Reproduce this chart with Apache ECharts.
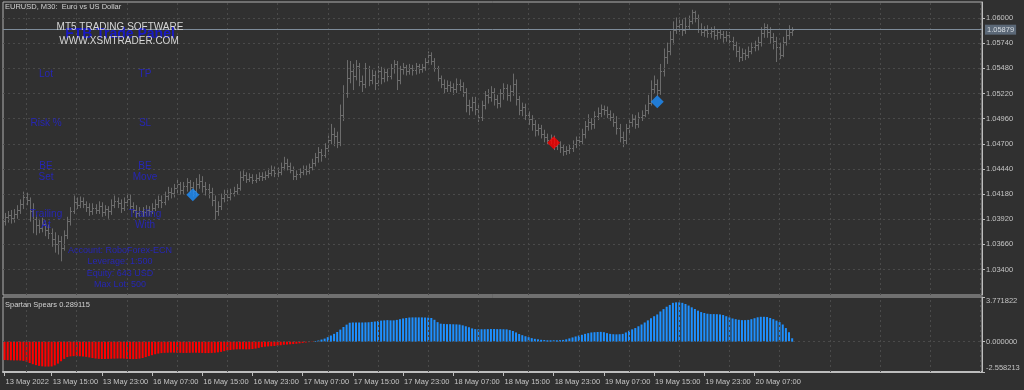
<!DOCTYPE html>
<html><head><meta charset="utf-8">
<script src="https://cdn.jsdelivr.net/npm/echarts@6/dist/echarts.min.js"></script>
<style>html,body{margin:0;padding:0;background:#303030;}#c{width:1024px;height:390px;}</style>
</head><body><div id="c"></div>
<script>
// ---- data (EURUSD M30, bar index 0 = 13 May 07:30) ----
const opens = [
1.0390,1.0394,1.0396,1.0393,1.0397,1.0402,1.0408,1.0415,1.0412,1.0400,
1.0392,1.0386,1.0383,1.0387,1.0381,1.0378,1.0372,1.0366,1.0370,1.0362,
1.0376,1.0390,1.0401,1.0410,1.0407,1.0411,1.0408,1.0405,1.0400,1.0404,
1.0402,1.0406,1.0399,1.0403,1.0400,1.0407,1.0411,1.0409,1.0404,1.0410,
1.0413,1.0406,1.0402,1.0398,1.0401,1.0399,1.0402,1.0400,1.0404,1.0408,
1.0412,1.0410,1.0416,1.0420,1.0419,1.0424,1.0428,1.0422,1.0426,1.0430,
1.0425,1.0421,1.0428,1.0432,1.0426,1.0423,1.0420,1.0412,1.0400,1.0406,
1.0414,1.0418,1.0415,1.0419,1.0421,1.0424,1.0436,1.0438,1.0434,1.0436,
1.0433,1.0435,1.0437,1.0436,1.0438,1.0440,1.0443,1.0440,1.0441,1.0446,
1.0450,1.0447,1.0443,1.0437,1.0439,1.0441,1.0444,1.0442,1.0446,1.0450,
1.0456,1.0461,1.0458,1.0466,1.0474,1.0480,1.0478,1.0472,1.0500,1.0522,
1.0538,1.0545,1.0540,1.0550,1.0535,1.0532,1.0548,1.0536,1.0541,1.0533,
1.0545,1.0538,1.0544,1.0540,1.0548,1.0552,1.0536,1.0547,1.0549,1.0545,
1.0548,1.0546,1.0550,1.0547,1.0549,1.0555,1.0562,1.0556,1.0548,1.0538,
1.0532,1.0528,1.0531,1.0529,1.0527,1.0532,1.0530,1.0523,1.0510,1.0508,
1.0513,1.0506,1.0498,1.0510,1.0520,1.0518,1.0524,1.0516,1.0512,1.0522,
1.0528,1.0520,1.0525,1.0532,1.0516,1.0505,1.0508,1.0500,1.0496,1.0490,
1.0484,1.0486,1.0480,1.0477,1.0474,1.0476,1.0468,1.0470,1.0467,1.0463,
1.0464,1.0466,1.0470,1.0474,1.0473,1.0480,1.0488,1.0492,1.0490,1.0499,
1.0502,1.0506,1.0505,1.0501,1.0498,1.0493,1.0486,1.0477,1.0474,1.0486,
1.0492,1.0496,1.0490,1.0498,1.0500,1.0505,1.0512,1.0527,1.0532,1.0526,
1.0545,1.0560,1.0566,1.0578,1.0588,1.0592,1.0594,1.0588,1.0592,1.0597,
1.0606,1.0600,1.0589,1.0586,1.0588,1.0584,1.0587,1.0582,1.0585,1.0583,
1.0580,1.0582,1.0576,1.0572,1.0566,1.0560,1.0564,1.0562,1.0566,1.0570,
1.0572,1.0575,1.0584,1.0591,1.0586,1.0580,1.0576,1.0570,1.0562,1.0575,
1.0582,1.0585];
const closes = [
1.0394,1.0396,1.0393,1.0397,1.0402,1.0408,1.0415,1.0412,1.0400,1.0392,
1.0386,1.0383,1.0387,1.0381,1.0378,1.0372,1.0366,1.0370,1.0362,1.0376,
1.0390,1.0401,1.0410,1.0407,1.0411,1.0408,1.0405,1.0400,1.0404,1.0402,
1.0406,1.0399,1.0403,1.0400,1.0407,1.0411,1.0409,1.0404,1.0410,1.0413,
1.0406,1.0402,1.0398,1.0401,1.0399,1.0402,1.0400,1.0404,1.0408,1.0412,
1.0410,1.0416,1.0420,1.0419,1.0424,1.0428,1.0422,1.0426,1.0430,1.0425,
1.0421,1.0428,1.0432,1.0426,1.0423,1.0420,1.0412,1.0400,1.0406,1.0414,
1.0418,1.0415,1.0419,1.0421,1.0424,1.0436,1.0438,1.0434,1.0436,1.0433,
1.0435,1.0437,1.0436,1.0438,1.0440,1.0443,1.0440,1.0441,1.0446,1.0450,
1.0447,1.0443,1.0437,1.0439,1.0441,1.0444,1.0442,1.0446,1.0450,1.0456,
1.0461,1.0458,1.0466,1.0474,1.0480,1.0478,1.0472,1.0500,1.0522,1.0538,
1.0545,1.0540,1.0550,1.0535,1.0532,1.0548,1.0536,1.0541,1.0533,1.0545,
1.0538,1.0544,1.0540,1.0548,1.0552,1.0536,1.0547,1.0549,1.0545,1.0548,
1.0546,1.0550,1.0547,1.0549,1.0555,1.0562,1.0556,1.0548,1.0538,1.0532,
1.0528,1.0531,1.0529,1.0527,1.0532,1.0530,1.0523,1.0510,1.0508,1.0513,
1.0506,1.0498,1.0510,1.0520,1.0518,1.0524,1.0516,1.0512,1.0522,1.0528,
1.0520,1.0525,1.0532,1.0516,1.0505,1.0508,1.0500,1.0496,1.0490,1.0484,
1.0486,1.0480,1.0477,1.0474,1.0476,1.0468,1.0470,1.0467,1.0463,1.0464,
1.0466,1.0470,1.0474,1.0473,1.0480,1.0488,1.0492,1.0490,1.0499,1.0502,
1.0506,1.0505,1.0501,1.0498,1.0493,1.0486,1.0477,1.0474,1.0486,1.0492,
1.0496,1.0490,1.0498,1.0500,1.0505,1.0512,1.0527,1.0532,1.0526,1.0545,
1.0560,1.0566,1.0578,1.0588,1.0592,1.0594,1.0588,1.0592,1.0597,1.0606,
1.0600,1.0589,1.0586,1.0588,1.0584,1.0587,1.0582,1.0585,1.0583,1.0580,
1.0582,1.0576,1.0572,1.0566,1.0560,1.0564,1.0562,1.0566,1.0570,1.0572,
1.0575,1.0584,1.0591,1.0586,1.0580,1.0576,1.0570,1.0562,1.0575,1.0582,
1.0585,1.05879];
const highs = [
1.0398,1.0400,1.0401,1.0402,1.0406,1.0412,1.0420,1.0419,1.0414,1.0408,
1.0396,1.0392,1.0393,1.0390,1.0386,1.0382,1.0378,1.0375,1.0374,1.0380,
1.0394,1.0404,1.0416,1.0414,1.0415,1.0414,1.0410,1.0408,1.0408,1.0407,
1.0410,1.0409,1.0406,1.0405,1.0412,1.0416,1.0414,1.0412,1.0414,1.0418,
1.0417,1.0409,1.0406,1.0404,1.0404,1.0406,1.0405,1.0408,1.0412,1.0416,
1.0416,1.0420,1.0425,1.0424,1.0428,1.0433,1.0430,1.0430,1.0434,1.0432,
1.0430,1.0434,1.0438,1.0436,1.0430,1.0428,1.0424,1.0416,1.0410,1.0418,
1.0422,1.0422,1.0423,1.0425,1.0428,1.0441,1.0442,1.0440,1.0439,1.0438,
1.0438,1.0440,1.0440,1.0441,1.0444,1.0447,1.0446,1.0445,1.0450,1.0456,
1.0454,1.0450,1.0446,1.0442,1.0444,1.0447,1.0447,1.0449,1.0454,1.0460,
1.0466,1.0464,1.0470,1.0478,1.0490,1.0486,1.0482,1.0510,1.0530,1.0556,
1.0555,1.0552,1.0556,1.0553,1.0540,1.0553,1.0550,1.0546,1.0545,1.0550,
1.0549,1.0548,1.0547,1.0552,1.0556,1.0555,1.0550,1.0553,1.0551,1.0552,
1.0551,1.0553,1.0552,1.0552,1.0558,1.0565,1.0564,1.0558,1.0550,1.0540,
1.0536,1.0535,1.0534,1.0532,1.0537,1.0536,1.0533,1.0527,1.0515,1.0518,
1.0518,1.0510,1.0514,1.0524,1.0526,1.0529,1.0527,1.0520,1.0526,1.0532,
1.0531,1.0530,1.0542,1.0536,1.0519,1.0512,1.0511,1.0503,1.0499,1.0494,
1.0490,1.0489,1.0484,1.0480,1.0479,1.0478,1.0473,1.0472,1.0469,1.0467,
1.0469,1.0473,1.0477,1.0477,1.0485,1.0493,1.0500,1.0496,1.0503,1.0507,
1.0510,1.0509,1.0508,1.0504,1.0501,1.0498,1.0490,1.0482,1.0490,1.0496,
1.0500,1.0499,1.0502,1.0504,1.0510,1.0520,1.0535,1.0540,1.0536,1.0552,
1.0568,1.0574,1.0586,1.0596,1.0600,1.0600,1.0598,1.0600,1.0602,1.0608,
1.0607,1.0603,1.0594,1.0591,1.0592,1.0590,1.0591,1.0588,1.0588,1.0586,
1.0586,1.0585,1.0580,1.0575,1.0570,1.0568,1.0567,1.0570,1.0574,1.0576,
1.0580,1.0590,1.0594,1.0593,1.0590,1.0584,1.0580,1.0574,1.0580,1.0587,
1.0592,1.0590];
const lows = [
1.0386,1.0389,1.0388,1.0389,1.0393,1.0398,1.0403,1.0407,1.0390,1.0378,
1.0376,1.0378,1.0379,1.0375,1.0372,1.0364,1.0358,1.0356,1.0349,1.0360,
1.0372,1.0386,1.0398,1.0403,1.0404,1.0404,1.0400,1.0396,1.0397,1.0398,
1.0398,1.0395,1.0396,1.0393,1.0397,1.0404,1.0404,1.0399,1.0401,1.0406,
1.0402,1.0399,1.0394,1.0395,1.0395,1.0396,1.0396,1.0398,1.0401,1.0404,
1.0404,1.0407,1.0412,1.0414,1.0415,1.0419,1.0418,1.0418,1.0421,1.0420,
1.0416,1.0417,1.0424,1.0420,1.0417,1.0414,1.0406,1.0392,1.0396,1.0402,
1.0410,1.0411,1.0412,1.0416,1.0418,1.0422,1.0432,1.0430,1.0431,1.0429,
1.0430,1.0432,1.0432,1.0433,1.0435,1.0437,1.0436,1.0436,1.0438,1.0443,
1.0443,1.0440,1.0433,1.0433,1.0435,1.0438,1.0438,1.0439,1.0443,1.0447,
1.0451,1.0452,1.0456,1.0462,1.0470,1.0468,1.0466,1.0468,1.0494,1.0518,
1.0533,1.0526,1.0536,1.0530,1.0524,1.0528,1.0530,1.0532,1.0526,1.0530,
1.0532,1.0534,1.0535,1.0537,1.0543,1.0526,1.0532,1.0542,1.0541,1.0542,
1.0541,1.0542,1.0543,1.0544,1.0546,1.0552,1.0552,1.0545,1.0535,1.0528,
1.0522,1.0524,1.0524,1.0521,1.0523,1.0525,1.0519,1.0503,1.0500,1.0504,
1.0500,1.0493,1.0494,1.0506,1.0512,1.0514,1.0510,1.0507,1.0508,1.0516,
1.0515,1.0514,1.0520,1.0510,1.0500,1.0499,1.0495,1.0490,1.0484,1.0478,
1.0479,1.0476,1.0472,1.0470,1.0470,1.0464,1.0464,1.0461,1.0458,1.0459,
1.0460,1.0462,1.0466,1.0468,1.0470,1.0476,1.0484,1.0485,1.0486,1.0495,
1.0498,1.0500,1.0497,1.0494,1.0488,1.0480,1.0472,1.0467,1.0470,1.0481,
1.0488,1.0486,1.0487,1.0494,1.0498,1.0501,1.0510,1.0522,1.0520,1.0521,
1.0540,1.0553,1.0562,1.0573,1.0584,1.0586,1.0582,1.0584,1.0588,1.0594,
1.0596,1.0585,1.0582,1.0581,1.0580,1.0580,1.0578,1.0578,1.0579,1.0575,
1.0576,1.0572,1.0567,1.0560,1.0555,1.0556,1.0557,1.0559,1.0563,1.0566,
1.0567,1.0571,1.0580,1.0580,1.0574,1.0568,1.0555,1.0558,1.0560,1.0572,
1.0578,1.0582];
const spears = [
-1.55,-1.56,-1.57,-1.58,-1.58,-1.59,-1.62,-1.70,-1.80,-1.90,
-1.98,-2.04,-2.08,-2.10,-2.10,-2.09,-2.00,-1.85,-1.65,-1.45,
-1.30,-1.24,-1.22,-1.22,-1.23,-1.25,-1.28,-1.33,-1.38,-1.42,
-1.45,-1.46,-1.46,-1.45,-1.44,-1.43,-1.42,-1.42,-1.43,-1.45,
-1.46,-1.47,-1.46,-1.43,-1.38,-1.30,-1.22,-1.14,-1.06,-1.00,
-0.96,-0.94,-0.93,-0.92,-0.92,-0.93,-0.94,-0.95,-0.95,-0.94,
-0.93,-0.93,-0.94,-0.95,-0.96,-0.96,-0.95,-0.93,-0.90,-0.86,
-0.80,-0.74,-0.70,-0.67,-0.65,-0.64,-0.64,-0.65,-0.64,-0.62,
-0.58,-0.52,-0.46,-0.42,-0.40,-0.38,-0.36,-0.34,-0.30,-0.26,
-0.24,-0.22,-0.20,-0.17,-0.14,-0.10,-0.07,-0.04,-0.02,0.06,
0.10,0.18,0.26,0.38,0.52,0.66,0.82,1.02,1.24,1.44,
1.60,1.62,1.62,1.62,1.62,1.63,1.64,1.67,1.70,1.74,
1.78,1.80,1.82,1.80,1.80,1.84,1.90,1.96,2.00,2.04,
2.05,2.05,2.05,2.05,2.04,2.03,2.00,1.85,1.65,1.52,
1.50,1.48,1.48,1.47,1.46,1.44,1.38,1.30,1.22,1.12,
1.06,1.05,1.05,1.05,1.06,1.07,1.07,1.06,1.06,1.05,
1.04,0.98,0.90,0.78,0.65,0.55,0.46,0.38,0.30,0.24,
0.20,0.16,0.14,0.12,0.12,0.12,0.12,0.13,0.15,0.20,
0.28,0.36,0.44,0.52,0.58,0.66,0.72,0.78,0.80,0.82,
0.83,0.80,0.72,0.66,0.63,0.62,0.63,0.66,0.78,0.92,
1.04,1.15,1.30,1.45,1.62,1.80,1.98,2.15,2.30,2.55,
2.75,2.95,3.10,3.28,3.32,3.32,3.28,3.18,3.05,2.90,
2.76,2.62,2.50,2.42,2.36,2.33,2.33,2.32,2.30,2.25,
2.15,2.05,1.96,1.90,1.85,1.82,1.82,1.84,1.90,1.98,
2.06,2.10,2.10,2.08,2.00,1.90,1.78,1.65,1.45,1.15,
0.80,0.289115];
const xTickLabels = ['13 May 2022','13 May 15:00','13 May 23:00','16 May 07:00','16 May 15:00','16 May 23:00','17 May 07:00','17 May 15:00','17 May 23:00','18 May 07:00','18 May 15:00','18 May 23:00','19 May 07:00','19 May 15:00','19 May 23:00','20 May 07:00'];
const xTickBars = [0,15,31,47,63,79,95,111,127,143,159,175,191,207,223,239];
const vGridBars = [7,23,39,55,71,87,103,119,135,151,167,183,199,215,231,247,263,279,295,311];
const priceTicks = [1.03400,1.03660,1.03920,1.04180,1.04440,1.04700,1.04960,1.05220,1.05480,1.05740,1.06000];
const spearTicks = [-2.558213, 0, 3.771822];
const buySignals = [[60, 1.04174], [208, 1.05133]];
const sellSignals = [[175, 1.04710]];
const lastPrice = 1.05879;
const slotCount = 312;

// ---- build ----
const slots = [];
for (let i = 0; i < slotCount; i++) slots.push(i);
const ohlc = opens.map((o, i) => [i, o, closes[i], lows[i], highs[i]]);

const FONT = 'Liberation Sans, Arial, sans-serif';
const AXIS_TXT = '#c4c4c4';
const gridLine = () => ({color: '#4a4a4a', type: [2, 3], width: 1});
const PANEL_BLUE = '#2626b4';

function renderOHLC(params, api) {
  const i = api.value(0);
  const pO = api.coord([i, api.value(1)]);
  const pC = api.coord([i, api.value(2)]);
  const pL = api.coord([i, api.value(3)]);
  const pH = api.coord([i, api.value(4)]);
  const x = Math.round(pH[0]) + 0.5;
  const yo = Math.round(pO[1]) + 0.5, yc = Math.round(pC[1]) + 0.5;
  const style = {stroke: '#6c6c6c', lineWidth: 1};
  return {type: 'group', children: [
    {type: 'line', shape: {x1: x, y1: pH[1] - 0.5, x2: x, y2: pL[1] + 0.5}, style},
    {type: 'line', shape: {x1: x - 1.5, y1: yo, x2: x, y2: yo}, style},
    {type: 'line', shape: {x1: x, y1: yc, x2: x + 1.5, y2: yc}, style}
  ]};
}

const isTick = (idx) => xTickBars.indexOf(Number(idx)) >= 0;

function txt(text, x, y, opt) {
  return {type: 'text', z: 100, silent: true, style: Object.assign({
    text, x, y, fill: PANEL_BLUE, font: '10px ' + FONT,
    align: 'center', verticalAlign: 'middle', textAlign: 'center', textVerticalAlign: 'middle'
  }, opt || {})};
}

const gridMarkLine = (list) => ({
  silent: true, symbol: ['none', 'none'], label: {show: false}, precision: 6,
  lineStyle: gridLine(), emphasis: {disabled: true}, animation: false, data: list
});

const chart = echarts.init(document.getElementById('c'), null, {renderer: 'canvas'});
chart.setOption({
  backgroundColor: '#303030',
  animation: false,
  grid: [
    {left: 3, top: 2, width: 979, height: 293, show: true, borderColor: '#b0b0b0', borderWidth: 1, backgroundColor: 'transparent'},
    {left: 3, top: 297, width: 979, height: 75, show: true, borderColor: '#b0b0b0', borderWidth: 1, backgroundColor: 'transparent'}
  ],
  xAxis: [
    {type: 'category', gridIndex: 0, data: slots, boundaryGap: true, show: false},
    {type: 'category', gridIndex: 1, data: slots, boundaryGap: true,
     axisLine: {show: true, onZero: false, lineStyle: {color: '#bdbdbd', width: 2}},
     axisTick: {show: true, interval: (i) => isTick(i), alignWithLabel: true, length: 4, lineStyle: {color: '#bdbdbd'}},
     axisLabel: {show: true, interval: (i) => isTick(i), align: 'left', margin: 6, padding: [0, 0, 0, 1],
       color: AXIS_TXT, fontFamily: FONT, fontSize: 7.5,
       formatter: (v) => { const k = xTickBars.indexOf(Number(v)); return k >= 0 ? xTickLabels[k] : ''; }},
     splitLine: {show: false}}
  ],
  yAxis: [
    {type: 'value', gridIndex: 0, position: 'right', min: 1.031369, max: 1.061651, scale: true,
     axisLine: {show: true, lineStyle: {color: '#bdbdbd'}},
     axisTick: {show: true, customValues: priceTicks, length: 3, lineStyle: {color: '#bdbdbd'}},
     axisLabel: {show: true, customValues: priceTicks, margin: 4, color: AXIS_TXT, fontFamily: FONT, fontSize: 7.5,
       formatter: (v) => v.toFixed(5)},
     splitLine: {show: false}},
    {type: 'value', gridIndex: 1, position: 'right', min: -2.558213, max: 3.771822,
     axisLine: {show: true, lineStyle: {color: '#bdbdbd'}},
     axisTick: {show: true, customValues: spearTicks, length: 3, lineStyle: {color: '#bdbdbd'}},
     axisLabel: {show: true, customValues: spearTicks, margin: 4, color: AXIS_TXT, fontFamily: FONT, fontSize: 7.5,
       verticalAlignMinLabel: 'bottom', verticalAlignMaxLabel: 'top',
       formatter: (v) => v.toFixed(6)},
     splitLine: {show: false}}
  ],
  series: [
    {type: 'line', xAxisIndex: 0, yAxisIndex: 0, data: [], silent: true,
     markLine: gridMarkLine(priceTicks.map(v => ({yAxis: v})).concat(vGridBars.map(b => ({xAxis: b}))))},
    {type: 'line', xAxisIndex: 1, yAxisIndex: 1, data: [], silent: true,
     markLine: gridMarkLine([{yAxis: 0}].concat(vGridBars.map(b => ({xAxis: b}))))},
    {type: 'custom', name: 'EURUSD', xAxisIndex: 0, yAxisIndex: 0, data: ohlc,
     encode: {x: 0, y: [1, 2, 3, 4]}, renderItem: renderOHLC, z: 3, silent: true},
    {type: 'line', name: 'Last price', xAxisIndex: 0, yAxisIndex: 0, data: [], silent: true, z: 4,
     markLine: {silent: true, symbol: ['none', 'none'], animation: false, precision: 5, emphasis: {disabled: true},
       lineStyle: {color: '#7d8b99', type: 'solid', width: 1},
       label: {show: true, position: 'end', distance: 3, formatter: lastPrice.toFixed(5),
         backgroundColor: '#5b6877', color: '#d8dde2', fontFamily: FONT, fontSize: 7.5, padding: [1, 2, 1, 2]},
       data: [{yAxis: lastPrice}]}},
    {type: 'scatter', xAxisIndex: 0, yAxisIndex: 0, data: buySignals, symbol: 'diamond', symbolSize: 13,
     itemStyle: {color: '#1e90ff'}, z: 5, silent: true},
    {type: 'scatter', xAxisIndex: 0, yAxisIndex: 0, data: sellSignals, symbol: 'diamond', symbolSize: 13,
     itemStyle: {color: '#ff0000'}, z: 5, silent: true},
    {type: 'bar', name: 'Spartan Spears', xAxisIndex: 1, yAxisIndex: 1, data: spears, barWidth: 2, silent: true,
     itemStyle: {color: (p) => p.value < 0 ? '#ff0000' : '#1e90ff'}}
  ],
  graphic: [
    txt('EURUSD, M30:  Euro vs US Dollar', 5, 7, {fill: '#d2d2d2', font: '7.5px ' + FONT, align: 'left', textAlign: 'left'}),
    txt('Spartan Spears 0.289115', 5, 304.5, {fill: '#d2d2d2', font: '7.5px ' + FONT, align: 'left', textAlign: 'left'}),
    txt('FTB Trade Panel', 120, 34, {fill: '#1818c4', font: 'bold 14px ' + FONT}),
    txt('MT5 TRADING SOFTWARE', 120, 27.5, {fill: '#d6d6d6'}),
    txt('WWW.XSMTRADER.COM', 119, 41, {fill: '#d6d6d6'}),
    txt('Lot', 46, 74), txt('TP', 145, 74),
    txt('Risk %', 46, 123), txt('SL', 145, 123),
    txt('BE', 46, 166), txt('Set', 46, 177), txt('BE', 145, 166), txt('Move', 145, 177),
    txt('Trailing', 46, 214), txt('At', 46, 225.5), txt('Trailing', 145, 214), txt('With', 145, 225.5),
    txt('Account: RoboForex-ECN', 120, 250.5, {font: '9px ' + FONT}),
    txt('Leverage: 1:500', 120, 262, {font: '9px ' + FONT}),
    txt('Equity: 643 USD', 120, 273.5, {font: '9px ' + FONT}),
    txt('Max Lot: 500', 120, 285, {font: '9px ' + FONT})
  ]
});
</script>
</body></html>
